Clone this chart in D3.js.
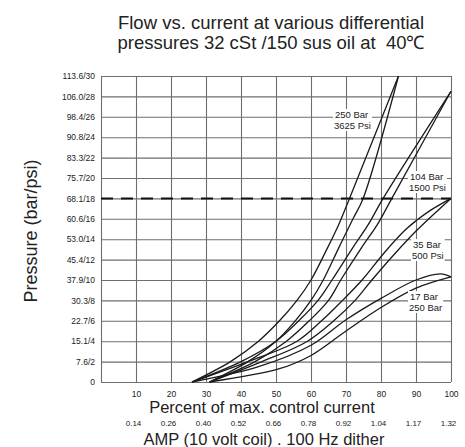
<!DOCTYPE html>
<html lang="en">
  <head>
    <meta charset="UTF-8" />
    <title>Flow vs. current</title>
    <script src="https://d3js.org/d3.v7.min.js"></script>
    <style>
      body { margin: 0; background: #fff; }
      text { font-family: "Liberation Sans", Arial, sans-serif; fill: #222; }
    </style>
  </head>
  <body>
    <script>
      // y tick labels (flow lpm/gpm), index 0..30 step 2
      const yTicks = [0, 2, 4, 6, 8, 10, 12, 14, 16, 18, 20, 22, 24, 26, 28, 30];
      const yLabels = ["0", "7.6/2", "15.1/4", "22.7/6", "30.3/8", "37.9/10", "45.4/12", "53.0/14",
        "60.6/16", "68.1/18", "75.7/20", "83.3/22", "90.8/24", "98.4/26", "106.0/28", "113.6/30"];
      const xTicks = [10, 20, 30, 40, 50, 60, 70, 80, 90, 100];
      const ampLabels = ["0.14", "0.26", "0.40", "0.52", "0.66", "0.78", "0.92", "1.04", "1.17", "1.32"];

      // curves: [percent, flow]
      const bar250Up = [[26, 0], [37, 2], [45, 4], [51, 6], [56, 8], [60, 10], [64.5, 13], [68, 15.5], [71, 18], [85, 30]];
      const bar250Down = [[31, 0], [42, 2], [50, 4], [55.5, 6], [60, 8], [63.5, 10], [68, 13.2], [72, 16], [74.9, 18], [85, 30]];
      const bar104Up = [[26, 0], [40, 2], [50, 4], [56.5, 6], [62, 8], [66, 10], [72, 13.2], [76.3, 15.4], [80.6, 18], [100, 28.5]];
      const bar104Down = [[31, 0], [44, 2], [53, 4], [59.5, 6], [65, 8], [68.5, 10], [74.5, 13.2], [78.9, 15.4], [83.1, 18], [100, 28.5]];
      const bar35Up = [[26, 0], [42, 2], [56, 4], [63, 6], [69, 8], [74.6, 10], [81, 12.7], [86.9, 14.9], [90, 15.8], [94, 16.8], [100, 18]];
      const bar35Down = [[31, 0], [46, 2], [59, 4], [66.5, 6], [72.6, 8], [77.4, 10], [84, 12.6], [90.3, 14.9], [100, 18]];
      const bar17Up = [[26, 0], [45, 1.5], [60, 3.6], [70, 6.1], [80, 8.2], [90, 10], [97, 10.6], [100, 10.3]];
      const bar17Down = [[31, 0], [51, 1.3], [60, 2.6], [70, 5.0], [80, 7.3], [90, 9.2], [100, 10.3]];
      const curves = [bar250Up, bar250Down, bar104Up, bar104Down, bar35Up, bar35Down, bar17Up, bar17Down];

      const refFlow = 18; // dashed line

      const width = 465;
      const height = 447;
      const plotLeft = 101, plotRight = 451, plotTop = 76, plotBottom = 382;

      const svg = d3.select("body").append("svg")
        .attr("width", width)
        .attr("height", height);

      const x = d3.scaleLinear().domain([0, 100]).range([plotLeft, plotRight]);
      const y = d3.scaleLinear().domain([0, 30]).range([plotBottom, plotTop]);

      // title
      const title = svg.append("text")
        .attr("text-anchor", "middle")
        .style("font-size", "18.5px")
        .style("white-space", "pre");
      title.append("tspan").attr("x", 271).attr("y", 29).text("Flow vs. current at various differential");
      title.append("tspan").attr("x", 271).attr("y", 49).text("pressures 32 cSt /150 sus oil at  40\u2103");

      // grid / axes
      const gy = svg.append("g")
        .attr("transform", `translate(${plotLeft},0)`)
        .call(d3.axisLeft(y).tickValues(yTicks)
          .tickFormat((d, i) => yLabels[i])
          .tickSize(-(plotRight - plotLeft)).tickPadding(6));
      gy.select(".domain").remove();
      gy.selectAll("line").attr("stroke", "#6e6e6e").attr("stroke-width", 1.1);
      gy.selectAll("text").style("font-size", "8.5px").attr("fill", "#333");

      const gx = svg.append("g")
        .attr("transform", `translate(0,${plotBottom})`)
        .call(d3.axisBottom(x).tickValues([0].concat(xTicks))
          .tickFormat(d => d === 0 ? "" : d)
          .tickSize(-(plotBottom - plotTop)).tickPadding(9));
      gx.select(".domain").remove();
      gx.selectAll("line").attr("stroke", "#6e6e6e").attr("stroke-width", 1.1);
      gx.selectAll("text").style("font-size", "8.5px").attr("fill", "#333");

      const ga = svg.append("g")
        .attr("transform", `translate(-3,${plotBottom + 36})`)
        .call(d3.axisBottom(x).tickValues(xTicks)
          .tickFormat((d, i) => ampLabels[i])
          .tickSize(0).tickPadding(2));
      ga.select(".domain").remove();
      ga.selectAll("text").style("font-size", "8px").attr("fill", "#333");

      // dashed reference line
      svg.append("line")
        .attr("x1", x(0)).attr("x2", x(100))
        .attr("y1", y(refFlow)).attr("y2", y(refFlow))
        .attr("stroke", "#111").attr("stroke-width", 2)
        .attr("stroke-dasharray", "12,8");

      // curves
      const line = d3.line()
        .x(d => x(d[0]))
        .y(d => y(d[1]))
        .curve(d3.curveCatmullRom.alpha(0.5));

      svg.append("g").selectAll("path")
        .data(curves)
        .enter()
        .append("path")
        .attr("d", line)
        .attr("fill", "none")
        .attr("stroke", "#1a1a1a")
        .attr("stroke-width", 1.3);

      // curve labels
      const labels = [
        { lines: ["250 Bar", "3625 Psi"], x: 334, y: 118 },
        { lines: ["104 Bar", "1500 Psi"], x: 409, y: 180 },
        { lines: ["35 Bar", "500 Psi"], x: 412, y: 248 },
        { lines: ["17 Bar", "250 Bar"], x: 409, y: 300 }
      ];
      labels.forEach(l => {
        const g = svg.append("g");
        const t = g.append("text").style("font-size", "9.5px").attr("fill", "#333");
        l.lines.forEach((s, i) => {
          t.append("tspan").attr("x", l.x + (i === 1 && s.length > l.lines[0].length ? 0 : 1)).attr("y", l.y + i * 11).text(s);
        });
        const bb = t.node().getBBox();
        g.insert("rect", "text")
          .attr("x", bb.x - 1).attr("y", bb.y)
          .attr("width", bb.width + 2).attr("height", bb.height)
          .attr("fill", "#fff");
      });

      // axis titles
      svg.append("text")
        .attr("transform", `translate(37,${(plotTop + plotBottom) / 2 + 2}) rotate(-90)`)
        .attr("text-anchor", "middle")
        .style("font-size", "18px")
        .text("Pressure (bar/psi)");

      svg.append("text")
        .attr("x", 262).attr("y", 413)
        .attr("text-anchor", "middle")
        .style("font-size", "16.5px")
        .text("Percent of max. control current");

      svg.append("text")
        .attr("x", 264).attr("y", 445)
        .attr("text-anchor", "middle")
        .style("font-size", "16.5px")
        .text("AMP (10 volt coil) . 100 Hz dither");
    </script>
  </body>
</html>
